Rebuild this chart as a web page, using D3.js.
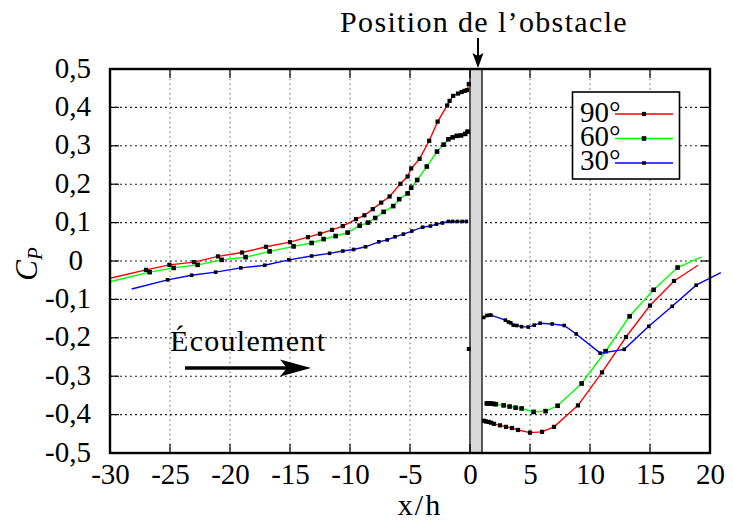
<!DOCTYPE html>
<html>
<head>
<meta charset="utf-8">
<script src="https://cdn.jsdelivr.net/npm/d3@7"></script>
<style>
  body { margin: 0; background: #fff; }
  svg { display: block; }
</style>
</head>
<body>
<svg id="chart" width="733" height="525"></svg>
<script>
// Axis ticks and their labels (decimal comma)
const xTicks = [-30, -25, -20, -15, -10, -5, 0, 5, 10, 15, 20];
const xTickLabels = ["-30", "-25", "-20", "-15", "-10", "-5", "0", "5", "10", "15", "20"];
const yTicks = [-0.5, -0.4, -0.3, -0.2, -0.1, 0, 0.1, 0.2, 0.3, 0.4, 0.5];
const yTickLabels = ["-0,5", "-0,4", "-0,3", "-0,2", "-0,1", "0", "0,1", "0,2", "0,3", "0,4", "0,5"];

const seriesLabels = ["90°", "60°", "30°"];
const seriesColors = ["#ff0000", "#00ff00", "#0000ff"];

// Pressure coefficient C_P versus x/h, upstream and downstream of the obstacle
const cp90Up = [
  [-30, -0.045], [-27.0, -0.023], [-25.05, -0.010], [-23.0, -0.003], [-21.0, 0.012],
  [-19.0, 0.022], [-17.0, 0.037], [-15.0, 0.049], [-13.5, 0.062], [-12.5, 0.071],
  [-11.5, 0.081], [-10.6, 0.091], [-9.5, 0.109], [-8.8, 0.119], [-8.1, 0.135],
  [-7.4, 0.152], [-6.7, 0.168], [-5.8, 0.201], [-5.2, 0.220], [-4.9, 0.241],
  [-4.2, 0.266], [-3.4, 0.313], [-2.7, 0.363], [-1.9, 0.405], [-1.7, 0.417],
  [-1.4, 0.430], [-1.0, 0.436], [-0.7, 0.440], [-0.45, 0.443], [-0.25, 0.445],
  [-0.1, 0.461]
];
const cp90Down = [
  [1.17, -0.416], [1.33, -0.418], [1.55, -0.419], [1.75, -0.421], [2.0, -0.424],
  [2.5, -0.428], [3.0, -0.432], [3.5, -0.435], [4.0, -0.440], [5.0, -0.447],
  [6.0, -0.445], [7.0, -0.432], [9.0, -0.376], [11.0, -0.290], [13.0, -0.198],
  [15.0, -0.116], [17.0, -0.052], [19.0, -0.011]
];
const cp60Up = [
  [-30, -0.054], [-26.7, -0.029], [-24.7, -0.018], [-22.7, -0.010], [-20.7, 0.003],
  [-18.7, 0.010], [-16.7, 0.025], [-14.7, 0.038], [-13.2, 0.047], [-12.2, 0.057],
  [-11.2, 0.065], [-10.2, 0.074], [-9.2, 0.092], [-8.5, 0.100], [-7.9, 0.112],
  [-7.2, 0.128], [-6.4, 0.143], [-5.9, 0.161], [-5.2, 0.176], [-4.9, 0.191],
  [-4.4, 0.211], [-3.6, 0.246], [-2.75, 0.285], [-2.2, 0.303], [-1.8, 0.317],
  [-1.45, 0.322], [-1.1, 0.326], [-0.75, 0.327], [-0.4, 0.331], [-0.2, 0.337]
];
const cp60Down = [
  [1.4, -0.371], [1.55, -0.371], [1.75, -0.371], [1.95, -0.372], [2.15, -0.373],
  [2.8, -0.376], [3.3, -0.379], [3.8, -0.382], [4.3, -0.384], [5.3, -0.393],
  [6.3, -0.391], [7.3, -0.377], [9.3, -0.319], [11.3, -0.235], [13.3, -0.144],
  [15.3, -0.075], [17.3, -0.017], [19.3, 0.011]
];
const cp30Up = [
  [-28.2, -0.073], [-25.2, -0.049], [-23.2, -0.037], [-21.2, -0.029], [-19.1, -0.018],
  [-17.1, -0.011], [-15.1, 0.003], [-13.2, 0.013], [-11.7, 0.020], [-10.6, 0.026],
  [-9.7, 0.030], [-8.7, 0.037], [-7.6, 0.050], [-6.9, 0.055], [-6.25, 0.063],
  [-5.55, 0.070], [-4.85, 0.078], [-3.95, 0.088], [-3.3, 0.091], [-2.8, 0.096],
  [-2.3, 0.099], [-1.8, 0.103], [-1.45, 0.103], [-1.05, 0.103], [-0.65, 0.103],
  [-0.3, 0.103]
];
const cp30Down = [
  [1.15, -0.147], [1.4, -0.142], [1.6, -0.141], [1.75, -0.141], [2.95, -0.154],
  [3.2, -0.159], [3.4, -0.161], [3.6, -0.167], [3.9, -0.168], [4.3, -0.171],
  [4.85, -0.172], [5.35, -0.167], [5.85, -0.162], [6.85, -0.164], [7.85, -0.168],
  [8.85, -0.190], [10.85, -0.240], [12.85, -0.230], [14.9, -0.170], [16.85, -0.118],
  [18.85, -0.063], [20.9, -0.030]
];
// A single tap reading on the upstream face
const strayPoint = [[-0.1, -0.229]];

const obstacleSpan = [0, 1];

const series = [
  { label: seriesLabels[0], color: seriesColors[0], up: cp90Up, down: cp90Down, marker: 4.2 },
  { label: seriesLabels[1], color: seriesColors[1], up: cp60Up, down: cp60Down, marker: 4.6 },
  { label: seriesLabels[2], color: seriesColors[2], up: cp30Up, down: cp30Down, marker: 3.6 }
];

const FONT = "Liberation Serif";
const svg = d3.select("#chart");
const plotL = 110, plotR = 710, plotT = 69, plotB = 453;
const x = d3.scaleLinear().domain([-30, 20]).range([plotL, plotR]);
const y = d3.scaleLinear().domain([-0.5, 0.5]).range([plotB, plotT]);

// Text helper: serif text set through attributes
function label(parent, tx, ty, str, size, opts = {}) {
  const t = parent.append("text")
    .attr("x", tx).attr("y", ty)
    .attr("font-family", FONT).attr("font-size", size).attr("fill", "#000")
    .attr("text-anchor", opts.anchor || "start");
  if (opts.spacing) t.attr("letter-spacing", opts.spacing);
  if (str !== null) t.text(str);
  return t;
}

// Dotted grid
const grid = svg.append("g");
grid.selectAll(".gx").data(xTicks.slice(1, -1)).join("line")
  .attr("x1", d => x(d)).attr("x2", d => x(d))
  .attr("y1", plotT).attr("y2", plotB)
  .attr("stroke", "#777").attr("stroke-width", 1.1).attr("stroke-dasharray", "1.6,3.2");
grid.selectAll(".gy").data(yTicks.slice(1, -1)).join("line")
  .attr("x1", plotL).attr("x2", plotR)
  .attr("y1", d => y(d)).attr("y2", d => y(d))
  .attr("stroke", "#222").attr("stroke-width", 1.1).attr("stroke-dasharray", "2,3");

// Obstacle
svg.append("rect")
  .attr("x", x(obstacleSpan[0])).attr("y", plotT)
  .attr("width", x(obstacleSpan[1]) - x(obstacleSpan[0])).attr("height", plotB - plotT)
  .attr("fill", "#d9d9d9").attr("stroke", "#333").attr("stroke-width", 1.6);

// Curves
const line = d3.line().x(d => x(d[0])).y(d => y(d[1]));
series.forEach(s => {
  [s.up, s.down].forEach(seg => {
    svg.append("path").datum(seg).attr("d", line)
      .attr("fill", "none").attr("stroke", s.color).attr("stroke-width", 1.4);
  });
  // markers on every reading except the two open ends of the curve
  const marked = s.up.slice(1).concat(s.down.slice(0, -1));
  svg.append("g").selectAll("rect").data(marked).join("rect")
    .attr("x", d => x(d[0]) - s.marker / 2).attr("y", d => y(d[1]) - s.marker / 2)
    .attr("width", s.marker).attr("height", s.marker).attr("fill", "#000");
});
svg.append("g").selectAll("rect").data(strayPoint).join("rect")
  .attr("x", d => x(d[0]) - 2).attr("y", d => y(d[1]) - 2)
  .attr("width", 4).attr("height", 4).attr("fill", "#000");

// Frame with mirrored inner ticks
const tl = 9;
const ticks = svg.append("g").attr("stroke", "#000").attr("stroke-width", 1.2);
xTicks.slice(1, -1).forEach(t => {
  ticks.append("line").attr("x1", x(t)).attr("x2", x(t)).attr("y1", plotB).attr("y2", plotB - tl);
  ticks.append("line").attr("x1", x(t)).attr("x2", x(t)).attr("y1", plotT).attr("y2", plotT + tl);
});
yTicks.slice(1, -1).forEach(t => {
  ticks.append("line").attr("x1", plotL).attr("x2", plotL + tl).attr("y1", y(t)).attr("y2", y(t));
  ticks.append("line").attr("x1", plotR).attr("x2", plotR - tl).attr("y1", y(t)).attr("y2", y(t));
});
svg.append("rect").attr("x", plotL).attr("y", plotT)
  .attr("width", plotR - plotL).attr("height", plotB - plotT)
  .attr("fill", "none").attr("stroke", "#000").attr("stroke-width", 2.4);

// Tick labels via d3 axes
const xAxis = d3.axisBottom(x).tickValues(xTicks).tickFormat((d, i) => xTickLabels[i]).tickSize(0).tickPadding(0);
const gx = svg.append("g").attr("transform", `translate(0,${plotB})`).call(xAxis)
  .attr("font-family", FONT).attr("font-size", 29);
gx.select(".domain").remove();
gx.selectAll("text").attr("y", 31).attr("dy", 0).attr("fill", "#000");

const yAxis = d3.axisLeft(y).tickValues(yTicks).tickFormat((d, i) => yTickLabels[i]).tickSize(0).tickPadding(0);
const gy = svg.append("g").attr("transform", "translate(91,0)").call(yAxis)
  .attr("font-family", FONT).attr("font-size", 29);
gy.select(".domain").remove();
gy.selectAll("text").attr("x", d => d === 0 ? -8 : 0).attr("dy", 8).attr("fill", "#000");

// Axis titles
label(svg, 420, 515, "x/h", 30, { anchor: "middle", spacing: 2 });
const yl = label(svg, 0, 0, null, 31, { anchor: "middle" })
  .attr("transform", "translate(37,264) rotate(-90)").attr("font-style", "italic");
yl.append("tspan").text("C");
yl.append("tspan").attr("dy", 5).attr("font-size", 21).text("P");

// Obstacle caption with arrow
label(svg, 484, 32, "Position de l’obstacle", 30, { anchor: "middle", spacing: 1.35 });
svg.append("line").attr("x1", 478).attr("x2", 478).attr("y1", 38).attr("y2", 58)
  .attr("stroke", "#000").attr("stroke-width", 2);
svg.append("path").attr("d", "M478,68 L472.5,53 L478,56 L483.5,53 Z").attr("fill", "#000");

// Flow direction
label(svg, 170, 351, "Écoulement", 30, { spacing: 1.3 });
svg.append("line").attr("x1", 185).attr("x2", 290).attr("y1", 368).attr("y2", 368)
  .attr("stroke", "#000").attr("stroke-width", 3.6);
svg.append("path").attr("d", "M311,368 L280,359.5 L287,368 L280,376.5 Z").attr("fill", "#000");

// Legend
const lg = svg.append("g");
lg.append("rect").attr("x", 572.5).attr("y", 92).attr("width", 107).attr("height", 87)
  .attr("fill", "#fff").attr("stroke", "#000").attr("stroke-width", 1.6);
const rowsText = [121.5, 145.5, 170];
const rowsLine = [114, 138.5, 163];
series.forEach((s, i) => {
  label(lg, 580, rowsText[i], s.label, 29);
  lg.append("line").attr("x1", 615).attr("x2", 673).attr("y1", rowsLine[i]).attr("y2", rowsLine[i])
    .attr("stroke", s.color).attr("stroke-width", 1.6);
  lg.append("rect").attr("x", 644 - s.marker / 2).attr("y", rowsLine[i] - s.marker / 2)
    .attr("width", s.marker).attr("height", s.marker).attr("fill", "#000");
});
</script>
</body>
</html>
